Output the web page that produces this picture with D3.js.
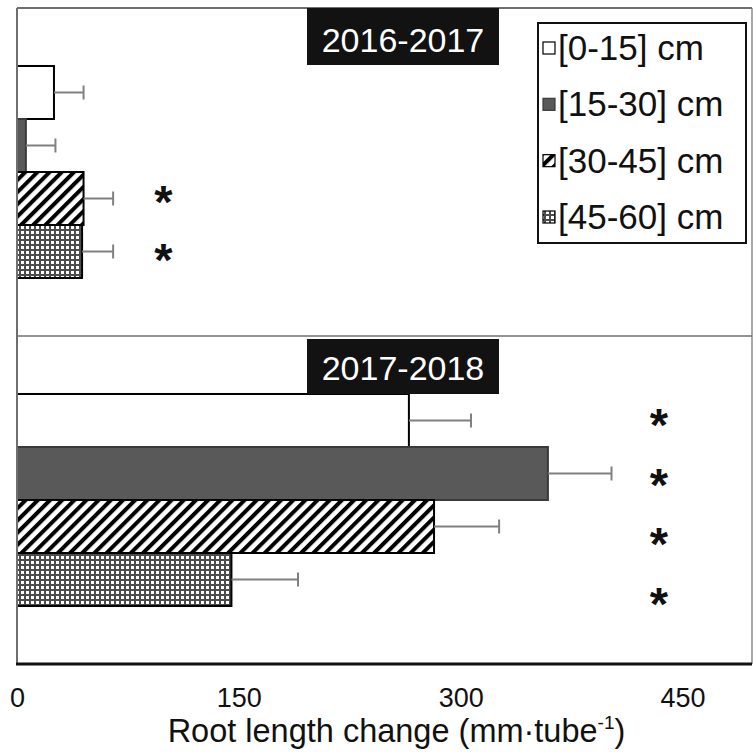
<!DOCTYPE html>
<html><head><meta charset="utf-8">
<script src="https://cdn.jsdelivr.net/npm/d3@7"></script>
<style>body{margin:0;background:#fff} svg{display:block}</style>
</head><body><svg id="c" width="756" height="752"></svg>
<script>
// ---- data ----
const periods = ["2016-2017", "2017-2018"];
const depths = ["[0-15] cm", "[15-30] cm", "[30-45] cm", "[45-60] cm"];
const values2016 = [25, 6, 45, 44];
const errors2016 = [20, 20, 20, 21];
const values2017 = [265, 359, 282, 145];
const errors2017 = [42, 43, 44, 45];
const signif2016 = [false, false, true, true];
const signif2017 = [true, true, true, true];
const starValue = [99, 434];
const xTicks = [0, 150, 300, 450];
const xTitle = "Root length change (mm·tube";
const xTitleSup = "-1";

// ---- layout ----
const L = 17, R = 752, T = 8, B = 664;
const svg = d3.select("#c");
const font = "'Liberation Sans', Arial, Helvetica, sans-serif";

const x = d3.scaleLinear().domain([0, 497]).range([L, R]);
const yPanel = d3.scaleBand().domain(periods).range([T, B]).padding(0);
const yInner = d3.scaleBand().domain(depths).range([0, yPanel.bandwidth()]).paddingInner(0).paddingOuter(1.094);

const rows = [];
periods.forEach((p, pi) => {
  const vals = pi === 0 ? values2016 : values2017;
  const errs = pi === 0 ? errors2016 : errors2017;
  const sig = pi === 0 ? signif2016 : signif2017;
  depths.forEach((d, i) => rows.push({period: p, pi, depth: d, i, v: vals[i], e: errs[i], s: sig[i]}));
});
const cy = d => yPanel(d.period) + yInner(d.depth) + yInner.bandwidth() / 2;

// ---- patterns ----
const defs = svg.append("defs");
const hatch = defs.append("pattern").attr("id", "hatch").attr("patternUnits", "userSpaceOnUse")
  .attr("width", 8.6).attr("height", 8.6).attr("patternTransform", "rotate(45)");
hatch.append("rect").attr("width", 8.6).attr("height", 8.6).attr("fill", "#fff");
hatch.append("rect").attr("width", 4).attr("height", 8.6).attr("fill", "#000");
const dots = defs.append("pattern").attr("id", "dots").attr("patternUnits", "userSpaceOnUse")
  .attr("width", 5).attr("height", 5);
dots.append("rect").attr("width", 5).attr("height", 5).attr("fill", "#4d4d4d");
dots.append("rect").attr("x", 1).attr("y", 1).attr("width", 3).attr("height", 3).attr("fill", "#fff");

const fills = ["#ffffff", "#595959", "url(#hatch)", "url(#dots)"];
const strokes = ["#000", "#3a3a3a", "#000", "#000"];

// ---- frame ----
svg.append("line").attr("x1", L).attr("x2", R).attr("y1", T).attr("y2", T).attr("stroke", "#6f6f6f").attr("stroke-width", 2);
svg.append("line").attr("x1", R).attr("x2", R).attr("y1", T).attr("y2", B).attr("stroke", "#6f6f6f").attr("stroke-width", 1.2);
svg.append("line").attr("x1", L).attr("x2", R).attr("y1", yPanel(periods[1])).attr("y2", yPanel(periods[1])).attr("stroke", "#6f6f6f").attr("stroke-width", 1.5);

// ---- bars ----
const g = svg.append("g");
g.selectAll("rect.bar").data(rows).join("rect").attr("class", "bar")
  .attr("x", x(0)).attr("y", d => yPanel(d.period) + yInner(d.depth))
  .attr("width", d => x(d.v) - x(0)).attr("height", yInner.bandwidth())
  .attr("fill", d => fills[d.i]).attr("stroke", d => strokes[d.i]).attr("stroke-width", 2);

// error bars
const eb = g.selectAll("g.err").data(rows).join("g").attr("class", "err");
eb.append("line").attr("x1", d => x(d.v)).attr("x2", d => x(d.v + d.e))
  .attr("y1", cy).attr("y2", cy)
  .attr("stroke", "#808080").attr("stroke-width", 2);
eb.append("line").attr("x1", d => x(d.v + d.e)).attr("x2", d => x(d.v + d.e))
  .attr("y1", d => cy(d) - 7).attr("y2", d => cy(d) + 7)
  .attr("stroke", "#808080").attr("stroke-width", 2);

// significance stars
const starSpread = [5, 6.67];
const starCentre = [2.7, 0.375];
g.selectAll("text.star").data(rows.filter(d => d.s)).join("text").attr("class", "star")
  .attr("x", d => x(starValue[d.pi]))
  .attr("y", d => cy(d) + (d.i - starCentre[d.pi]) * starSpread[d.pi] + 23)
  .attr("text-anchor", "middle").attr("font-family", font).attr("font-size", 47).attr("font-weight", "bold").attr("fill", "#111")
  .text("*");

// period labels
const pl = svg.selectAll("g.plab").data(periods).join("g").attr("class", "plab");
pl.append("rect").attr("x", 307).attr("width", 192).attr("y", (d, i) => yPanel(d) + (i === 0 ? 0 : 3)).attr("height", (d, i) => i === 0 ? 57 : 55).attr("fill", "#121212");
pl.append("text").attr("x", 403).attr("y", d => yPanel(d) + 44).attr("text-anchor", "middle")
  .attr("font-family", font).attr("font-size", 34).attr("fill", "#fff").text(d => d);

// left axis line and bottom axis
svg.append("line").attr("x1", L).attr("x2", L).attr("y1", T).attr("y2", B).attr("stroke", "#6f6f6f").attr("stroke-width", 2);
const ax = svg.append("g").attr("transform", `translate(0,${B})`)
  .call(d3.axisBottom(x).tickValues(xTicks).tickSize(0).tickPadding(0).tickFormat(d3.format("d")));
ax.select(".domain").attr("stroke", "#111").attr("stroke-width", 3).attr("d", `M${L - 1},0H${R}`);
ax.selectAll(".tick text").attr("font-family", font).attr("font-size", 27).attr("fill", "#111").attr("dy", null).attr("y", 43);

const tt = svg.append("text").attr("x", (L + R) / 2 + 12).attr("y", 742).attr("text-anchor", "middle")
  .attr("font-family", font).attr("font-size", 32.5).attr("fill", "#111");
tt.append("tspan").text(xTitle);
tt.append("tspan").attr("font-size", 19).attr("dy", -13).text(xTitleSup);
tt.append("tspan").attr("dy", 13).text(")");

// legend
const lg = svg.append("g");
lg.append("rect").attr("x", 538).attr("y", 23).attr("width", 208).attr("height", 220).attr("fill", "#fff").attr("stroke", "#111").attr("stroke-width", 2);
const ly = d3.scalePoint().domain(depths).range([48, 217]);
const li = lg.selectAll("g.li").data(depths).join("g").attr("class", "li");
li.append("rect").attr("x", 543).attr("y", d => ly(d) - 6).attr("width", 12).attr("height", 12)
  .attr("fill", (d, i) => fills[i]).attr("stroke", (d, i) => strokes[i]).attr("stroke-width", 1.2);
li.append("text").attr("x", 558).attr("y", d => ly(d) + 12).attr("font-family", font).attr("font-size", 35).attr("fill", "#111").text(d => d);
</script></body></html>
